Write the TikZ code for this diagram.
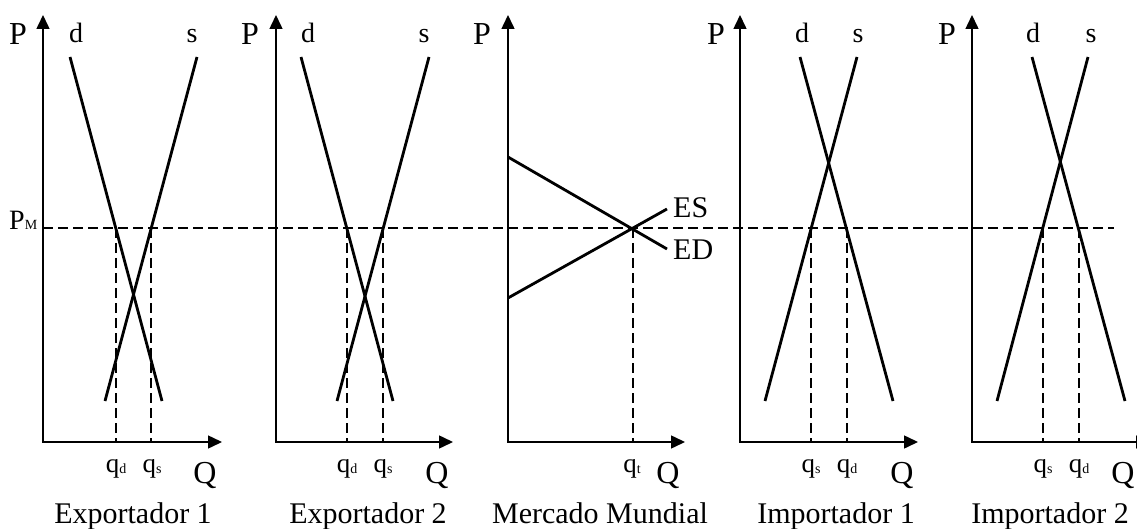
\documentclass[tikz,border=0pt]{standalone}
\usepackage{fontspec}
\setmainfont{Liberation Serif}
\usetikzlibrary{arrows.meta}
\newcommand{\qsub}[1]{q\raisebox{-1pt}{\fontsize{14}{14}\selectfont #1}}
\begin{document}
\begin{tikzpicture}[x=1pt,y=-1pt,
  axis/.style={line width=1.5pt,{Triangle[length=14pt,width=13pt]}-{Triangle[length=14pt,width=13pt]}},
  curve/.style={line width=2.8pt},
  guide/.style={line width=1.4pt,dash pattern=on 10pt off 5pt},
  big/.style={inner sep=0pt,anchor=base,font=\fontsize{32}{32}\selectfont},
  mid/.style={inner sep=0pt,anchor=base,font=\fontsize{28}{28}\selectfont},
  qlbl/.style={inner sep=0pt,anchor=base,font=\fontsize{27}{27}\selectfont},
  captxt/.style={inner sep=0pt,anchor=base,font=\fontsize{30}{30}\selectfont}
]
\useasboundingbox (0,0) rectangle (1137,529);

% ---------- world price line ----------
\coordinate (pmL) at (43,228);
\coordinate (pmR) at (1114,228);
\draw[guide] (pmL) -- (pmR);
\node[mid,anchor=base west] (PM) at (9,230) {P\fontsize{14}{14}\selectfont M};

% ---------- Panel 1: Exportador 1 ----------
\coordinate (t1) at (43,15); \coordinate (o1) at (43,442); \coordinate (x1) at (222,442);
\draw[axis] (t1) -- (o1) -- (x1);
\coordinate (d1a) at (70,57);  \coordinate (d1b) at (162,401);
\coordinate (s1a) at (197,57); \coordinate (s1b) at (105,401);
\draw[curve] (d1a) -- (d1b);
\draw[curve] (s1a) -- (s1b);
\coordinate (qd1t) at (116,228); \coordinate (qd1b) at (116,442);
\coordinate (qs1t) at (151,228); \coordinate (qs1b) at (151,442);
\draw[guide] (qd1t) -- (qd1b);
\draw[guide] (qs1t) -- (qs1b);
\node[big] (P1) at (18,45) {P};
\node[mid] (dl1) at (76,43) {d};
\node[mid] (sl1) at (192,43) {s};
\node[qlbl] (qdl1) at (116,472) {\qsub{d}};
\node[qlbl] (qsl1) at (152,472) {\qsub{s}};
\node[big] (Q1) at (205,483) {Q};
\node[captxt] (c1) at (133,523) {Exportador 1};

% ---------- Panel 2: Exportador 2 ----------
\coordinate (t2) at (276,15); \coordinate (o2) at (276,442); \coordinate (x2) at (453,442);
\draw[axis] (t2) -- (o2) -- (x2);
\coordinate (d2a) at (301,57);  \coordinate (d2b) at (393,401);
\coordinate (s2a) at (429,57);  \coordinate (s2b) at (337,401);
\draw[curve] (d2a) -- (d2b);
\draw[curve] (s2a) -- (s2b);
\coordinate (qd2t) at (347,228); \coordinate (qd2b) at (347,442);
\coordinate (qs2t) at (383,228); \coordinate (qs2b) at (383,442);
\draw[guide] (qd2t) -- (qd2b);
\draw[guide] (qs2t) -- (qs2b);
\node[big] (P2) at (250,45) {P};
\node[mid] (dl2) at (308,43) {d};
\node[mid] (sl2) at (424,43) {s};
\node[qlbl] (qdl2) at (347,472) {\qsub{d}};
\node[qlbl] (qsl2) at (383,472) {\qsub{s}};
\node[big] (Q2) at (437,483) {Q};
\node[captxt] (c2) at (368,523) {Exportador 2};

% ---------- Panel 3: Mercado Mundial ----------
\coordinate (t3) at (508,15); \coordinate (o3) at (508,442); \coordinate (x3) at (685,442);
\draw[axis] (t3) -- (o3) -- (x3);
\coordinate (eda) at (508,157); \coordinate (edb) at (667,249);
\coordinate (esa) at (508,298); \coordinate (esb) at (667,209);
\draw[curve] (eda) -- (edb);
\draw[curve] (esa) -- (esb);
\coordinate (qt3t) at (633,228); \coordinate (qt3b) at (633,442);
\draw[guide] (qt3t) -- (qt3b);
\node[big] (P3) at (482,45) {P};
\node[mid,anchor=base west,font=\fontsize{30}{30}\selectfont] (ES) at (673,218) {ES};
\node[mid,anchor=base west,font=\fontsize{30}{30}\selectfont] (ED) at (673,260) {ED};
\node[qlbl] (qtl3) at (632,472) {\qsub{t}};
\node[big] (Q3) at (668,483) {Q};
\node[captxt] (c3) at (600,523) {Mercado Mundial};

% ---------- Panel 4: Importador 1 ----------
\coordinate (t4) at (740,15); \coordinate (o4) at (740,442); \coordinate (x4) at (918,442);
\draw[axis] (t4) -- (o4) -- (x4);
\coordinate (d4a) at (800,57);  \coordinate (d4b) at (893,401);
\coordinate (s4a) at (857,57);  \coordinate (s4b) at (765,401);
\draw[curve] (d4a) -- (d4b);
\draw[curve] (s4a) -- (s4b);
\coordinate (qs4t) at (811,228); \coordinate (qs4b) at (811,442);
\coordinate (qd4t) at (847,228); \coordinate (qd4b) at (847,442);
\draw[guide] (qs4t) -- (qs4b);
\draw[guide] (qd4t) -- (qd4b);
\node[big] (P4) at (716,45) {P};
\node[mid] (dl4) at (802,43) {d};
\node[mid] (sl4) at (858,43) {s};
\node[qlbl] (qsl4) at (811,472) {\qsub{s}};
\node[qlbl] (qdl4) at (847,472) {\qsub{d}};
\node[big] (Q4) at (902,483) {Q};
\node[captxt] (c4) at (836,523) {Importador 1};

% ---------- Panel 5: Importador 2 ----------
\coordinate (t5) at (972,15); \coordinate (o5) at (972,442); \coordinate (x5) at (1150,442);
\draw[axis] (t5) -- (o5) -- (x5);
\coordinate (d5a) at (1032,57);  \coordinate (d5b) at (1125,401);
\coordinate (s5a) at (1088,57);  \coordinate (s5b) at (997,401);
\draw[curve] (d5a) -- (d5b);
\draw[curve] (s5a) -- (s5b);
\coordinate (qs5t) at (1043,228); \coordinate (qs5b) at (1043,442);
\coordinate (qd5t) at (1079,228); \coordinate (qd5b) at (1079,442);
\draw[guide] (qs5t) -- (qs5b);
\draw[guide] (qd5t) -- (qd5b);
\node[big] (P5) at (947,45) {P};
\node[mid] (dl5) at (1033,43) {d};
\node[mid] (sl5) at (1091,43) {s};
\node[qlbl] (qsl5) at (1043,472) {\qsub{s}};
\node[qlbl] (qdl5) at (1079,472) {\qsub{d}};
\node[big] (Q5) at (1123,483) {Q};
\node[captxt] (c5) at (1050,523) {Importador 2};
\end{tikzpicture}
\end{document}
